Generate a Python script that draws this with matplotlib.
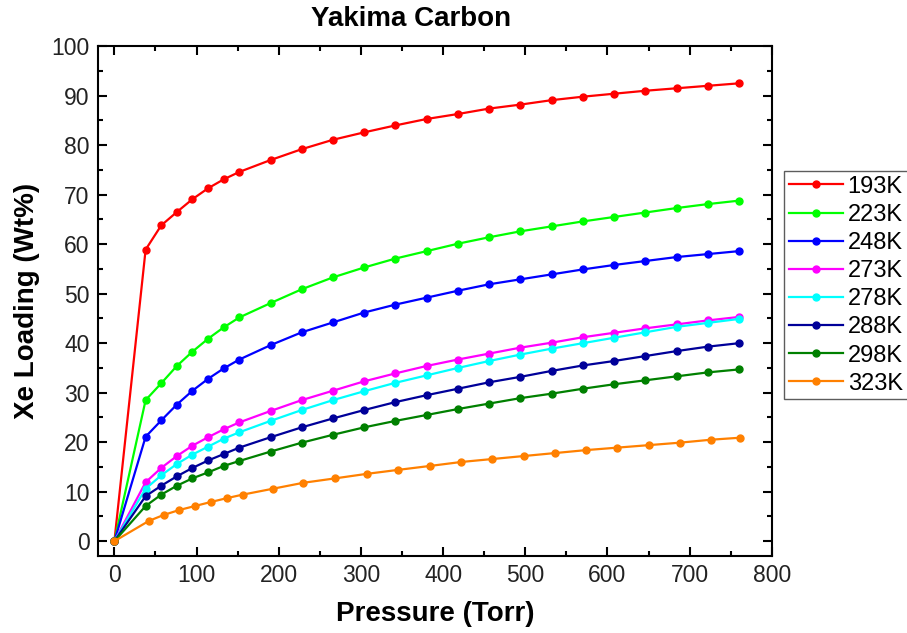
import matplotlib
matplotlib.use('Agg')
import matplotlib.pyplot as plt
from matplotlib.ticker import MultipleLocator

plt.rcParams['font.family'] = ['Liberation Sans', 'DejaVu Sans']

# Presion (Torr) de cada punto
pressure = [0, 38, 57, 76, 95, 114, 133, 152, 190, 228, 266, 304, 342, 380,
            418, 456, 494, 532, 570, 608, 646, 684, 722, 760]
pressure_323 = [0, 42, 60, 79, 98, 117, 137, 156, 193, 230, 269, 307, 345, 384,
                422, 460, 498, 536, 574, 612, 650, 688, 726, 761]

# Carga de Xe (Wt%) por temperatura
load_193 = [0, 58.9, 63.8, 66.5, 69.1, 71.3, 73.1, 74.6, 77.0, 79.2, 81.1, 82.6,
            84.0, 85.3, 86.3, 87.4, 88.2, 89.1, 89.8, 90.4, 91.0, 91.5, 92.0, 92.5]
load_223 = [0, 28.5, 31.9, 35.4, 38.3, 40.9, 43.2, 45.2, 48.1, 50.9, 53.3, 55.3,
            57.1, 58.6, 60.1, 61.4, 62.6, 63.6, 64.6, 65.5, 66.4, 67.3, 68.1, 68.8]
load_248 = [0, 21.1, 24.4, 27.6, 30.4, 32.8, 34.9, 36.7, 39.6, 42.2, 44.2, 46.2,
            47.8, 49.2, 50.6, 51.9, 52.9, 53.9, 54.9, 55.8, 56.6, 57.4, 58.0, 58.6]
load_273 = [0, 11.9, 14.8, 17.2, 19.3, 21.0, 22.6, 24.0, 26.3, 28.5, 30.4, 32.3,
            33.9, 35.4, 36.7, 37.9, 39.1, 40.1, 41.2, 42.1, 43.0, 43.8, 44.6, 45.3]
load_278 = [0, 10.6, 13.3, 15.6, 17.5, 19.1, 20.7, 22.0, 24.3, 26.5, 28.5, 30.3,
            32.0, 33.5, 35.0, 36.4, 37.7, 38.9, 40.0, 41.1, 42.2, 43.3, 44.1, 44.9]
load_288 = [0, 9.1, 11.2, 13.1, 14.8, 16.3, 17.6, 18.9, 21.0, 23.0, 24.8, 26.5,
            28.1, 29.5, 30.8, 32.1, 33.2, 34.4, 35.5, 36.4, 37.4, 38.4, 39.3, 40.0]
load_298 = [0, 7.1, 9.4, 11.2, 12.7, 13.9, 15.2, 16.2, 18.1, 19.9, 21.5, 23.0,
            24.3, 25.5, 26.7, 27.8, 28.9, 29.8, 30.8, 31.7, 32.5, 33.3, 34.1, 34.7]
load_323 = [0, 4.1, 5.3, 6.3, 7.1, 7.9, 8.7, 9.4, 10.6, 11.8, 12.7, 13.6,
            14.4, 15.2, 16.0, 16.6, 17.2, 17.8, 18.4, 18.9, 19.4, 19.9, 20.5, 20.9]

series = [
    ('193K', pressure, load_193, '#ff0000'),
    ('223K', pressure, load_223, '#00ff00'),
    ('248K', pressure, load_248, '#0000ff'),
    ('273K', pressure, load_273, '#ff00ff'),
    ('278K', pressure, load_278, '#00ffff'),
    ('288K', pressure, load_288, '#000099'),
    ('298K', pressure, load_298, '#008000'),
    ('323K', pressure_323, load_323, '#ff8000'),
]

fig = plt.figure(figsize=(9.07, 6.33), dpi=100)
ax = fig.add_axes([0.108, 0.1216, 0.743, 0.8054])

for label, x, y, color in series:
    ax.plot(x, y, '-o', color=color, lw=1.6, ms=5, label=label)

ax.set_xlim(-20, 800)
ax.set_ylim(-3, 100)
ax.xaxis.set_major_locator(MultipleLocator(100))
ax.xaxis.set_minor_locator(MultipleLocator(50))
ax.yaxis.set_major_locator(MultipleLocator(10))
ax.yaxis.set_minor_locator(MultipleLocator(5))

ax.tick_params(which='both', direction='in', top=True, right=True, width=1.5,
               labelsize=16.5, labelcolor='#222222', pad=6)
ax.tick_params(which='major', length=6.5)
ax.tick_params(which='minor', length=3.5)
for s in ax.spines.values():
    s.set_linewidth(1.5)

ax.set_xlabel('Pressure (Torr)', fontsize=20, fontweight='bold', labelpad=10)
ax.set_ylabel('Xe Loading (Wt%)', fontsize=20, fontweight='bold', labelpad=8)
fig.text(411 / 907, 1 - 19 / 633, 'Yakima Carbon', fontsize=20, fontweight='bold',
         ha='center', va='center')

leg = ax.legend(loc='upper left', bbox_to_anchor=(784 / 907, 1 - 171 / 633),
                bbox_transform=fig.transFigure, borderaxespad=0, fontsize=17,
                frameon=True, fancybox=False, edgecolor='#333333',
                handlelength=2.3, handletextpad=0.2, labelspacing=0.26,
                borderpad=0.2)
leg.get_frame().set_linewidth(1.0)

fig.savefig('out.png', dpi=100)
